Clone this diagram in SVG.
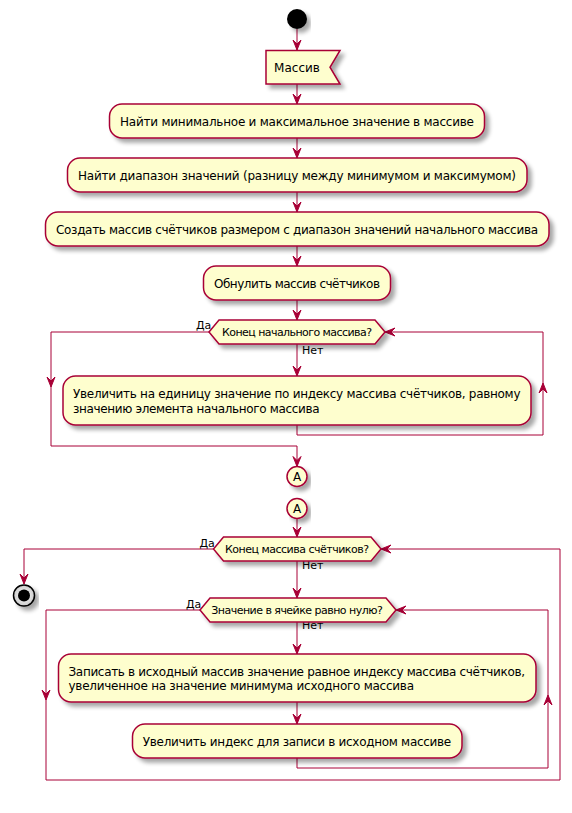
<svg xmlns="http://www.w3.org/2000/svg" width="572" height="813" viewBox="0 0 572 813">
<defs>
<filter id="sh" x="-10%" y="-20%" width="130%" height="160%">
<feGaussianBlur in="SourceAlpha" stdDeviation="2"/>
<feOffset dx="4" dy="4" result="b"/>
<feComponentTransfer><feFuncA type="linear" slope="0.35"/></feComponentTransfer>
<feMerge><feMergeNode/><feMergeNode in="SourceGraphic"/></feMerge>
</filter>
<radialGradient id="endg" cx="50%" cy="50%" r="50%">
<stop offset="0" stop-color="#ffffff"/><stop offset="1" stop-color="#cccccc"/>
</radialGradient>
</defs>
<style>
.box{fill:#FEFECE;stroke:#A80036;stroke-width:1.5;filter:url(#sh)}
.ln{fill:none;stroke:#A80036;stroke-width:1}
.ah{fill:#A80036;stroke:#A80036;stroke-width:1}
.t{font-family:"DejaVu Sans","Noto Sans",sans-serif;font-size:12px;fill:#000}
.tc{text-anchor:middle}
.s{font-family:"DejaVu Sans","Noto Sans",sans-serif;font-size:11px;fill:#000}
</style>
<rect width="572" height="813" fill="#fff"/>
<g id="connectors">
<line class="ln" x1="297" y1="29" x2="297" y2="50"/>
<polygon class="ah" points="293,40 297,50 301,40 297,44"/>
<line class="ln" x1="297" y1="84" x2="297" y2="104"/>
<polygon class="ah" points="293,94 297,104 301,94 297,98"/>
<line class="ln" x1="297" y1="138" x2="297" y2="158"/>
<polygon class="ah" points="293,148 297,158 301,148 297,152"/>
<line class="ln" x1="297" y1="192" x2="297" y2="212"/>
<polygon class="ah" points="293,202 297,212 301,202 297,206"/>
<line class="ln" x1="297" y1="246" x2="297" y2="266"/>
<polygon class="ah" points="293,256 297,266 301,256 297,260"/>
<line class="ln" x1="297" y1="300" x2="297" y2="320"/>
<polygon class="ah" points="293,310 297,320 301,310 297,314"/>
<line class="ln" x1="297" y1="344" x2="297" y2="376"/>
<polygon class="ah" points="293,366 297,376 301,366 297,370"/>
<polyline class="ln" points="297,425 297,435 543,435 543,332 385,332"/>
<polygon class="ah" points="539,393 543,383 547,393 543,389"/>
<polygon class="ah" points="395,328 385,332 395,336 391,332"/>
<polyline class="ln" points="209,332 51,332 51,446 297,446 297,466.5"/>
<polygon class="ah" points="47,377 51,387 55,377 51,381"/>
<polygon class="ah" points="293,456.5 297,466.5 301,456.5 297,460.5"/>
<line class="ln" x1="297" y1="518.5" x2="297" y2="537"/>
<polygon class="ah" points="293,527 297,537 301,527 297,531"/>
<polyline class="ln" points="213.5,549 24,549 24,584"/>
<polygon class="ah" points="20,574 24,584 28,574 24,578"/>
<line class="ln" x1="297" y1="561" x2="297" y2="598"/>
<polygon class="ah" points="293,588 297,598 301,588 297,592"/>
<line class="ln" x1="297" y1="622" x2="297" y2="654"/>
<polygon class="ah" points="293,644 297,654 301,644 297,648"/>
<line class="ln" x1="297" y1="702" x2="297" y2="724"/>
<polygon class="ah" points="293,714 297,724 301,714 297,718"/>
<polyline class="ln" points="297,758 297,768 548,768 548,610 396,610"/>
<polygon class="ah" points="544,705 548,695 552,705 548,701"/>
<polygon class="ah" points="406,606 396,610 406,614 402,610"/>
<polyline class="ln" points="200,610 46,610 46,780 560,780 560,549 381,549"/>
<polygon class="ah" points="42,690 46,700 50,690 46,694"/>
<polygon class="ah" points="391,545 381,549 391,553 387,549"/>
<text class="s" x="196" y="328.5">Да</text>
<text class="s" x="302" y="354">Нет</text>
<text class="s" x="199.5" y="547">Да</text>
<text class="s" x="302" y="568.5">Нет</text>
<text class="s" x="186" y="607.5">Да</text>
<text class="s" x="302" y="629">Нет</text>
</g>
<g id="start"><circle cx="297" cy="19" r="10" fill="#000" filter="url(#sh)"/></g>
<g id="n_array">
<polygon class="box" points="266,50.5 340,50.5 330,67.25 340,84 266,84"/>
<text class="t tc" x="297" y="71.5">Массив</text>
</g>
<g id="n_minmax">
<rect class="box" x="109.5" y="104" width="375" height="34" rx="12.5"/>
<text class="t tc" x="297" y="126" textLength="354">Найти минимальное и максимальное значение в массиве</text>
</g>
<g id="n_range">
<rect class="box" x="67.5" y="158" width="459.5" height="34" rx="12.5"/>
<text class="t tc" x="297" y="180" textLength="438">Найти диапазон значений (разницу между минимумом и максимумом)</text>
</g>
<g id="n_create">
<rect class="box" x="45.5" y="212" width="503.5" height="34" rx="12.5"/>
<text class="t tc" x="297" y="234" textLength="482">Создать массив счётчиков размером с диапазон значений начального массива</text>
</g>
<g id="n_zero">
<rect class="box" x="203.5" y="266" width="187" height="34" rx="12.5"/>
<text class="t tc" x="297" y="288" textLength="166">Обнулить массив счётчиков</text>
</g>
<g id="n_while1">
<polygon class="box" points="209,332 219,320 375,320 385,332 375,344 219,344"/>
<text class="s tc" x="297" y="336" textLength="150">Конец начального массива?</text>
</g>
<g id="n_inc">
<rect class="box" x="63" y="376" width="468" height="49" rx="12.5"/>
<text class="t" x="73" y="397.5" textLength="447.5">Увеличить на единицу значение по индексу массива счётчиков, равному</text>
<text class="t" x="73" y="412.5" textLength="246.5">значению элемента начального массива</text>
</g>
<g id="n_a1">
<circle class="box" cx="297" cy="476.5" r="10"/>
<text class="t tc" x="297" y="481">A</text>
</g>
<g id="n_a2">
<circle class="box" cx="297" cy="508.5" r="10"/>
<text class="t tc" x="297" y="513">A</text>
</g>
<g id="n_while2">
<polygon class="box" points="213.5,549 223.5,537 371,537 381,549 371,561 223.5,561"/>
<text class="s tc" x="297" y="553" textLength="144">Конец массива счётчиков?</text>
</g>
<g id="end">
<circle cx="24" cy="595.5" r="10.5" fill="url(#endg)" stroke="#000" stroke-width="1.5" filter="url(#sh)"/>
<circle cx="24" cy="595.5" r="6" fill="#000"/>
</g>
<g id="n_while3">
<polygon class="box" points="200,610 210,598 386,598 396,610 386,622 210,622"/>
<text class="s tc" x="297" y="614" textLength="171.5">Значение в ячейке равно нулю?</text>
</g>
<g id="n_write">
<rect class="box" x="58.5" y="654" width="477.5" height="48" rx="12.5"/>
<text class="t" x="68.5" y="675.5" textLength="456.5">Записать в исходный массив значение равное индексу массива счётчиков,</text>
<text class="t" x="68.5" y="690" textLength="345.5">увеличенное на значение минимума исходного массива</text>
</g>
<g id="n_idx">
<rect class="box" x="132.5" y="724" width="329.5" height="34" rx="12.5"/>
<text class="t tc" x="297" y="746" textLength="308.5">Увеличить индекс для записи в исходном массиве</text>
</g>
</svg>
